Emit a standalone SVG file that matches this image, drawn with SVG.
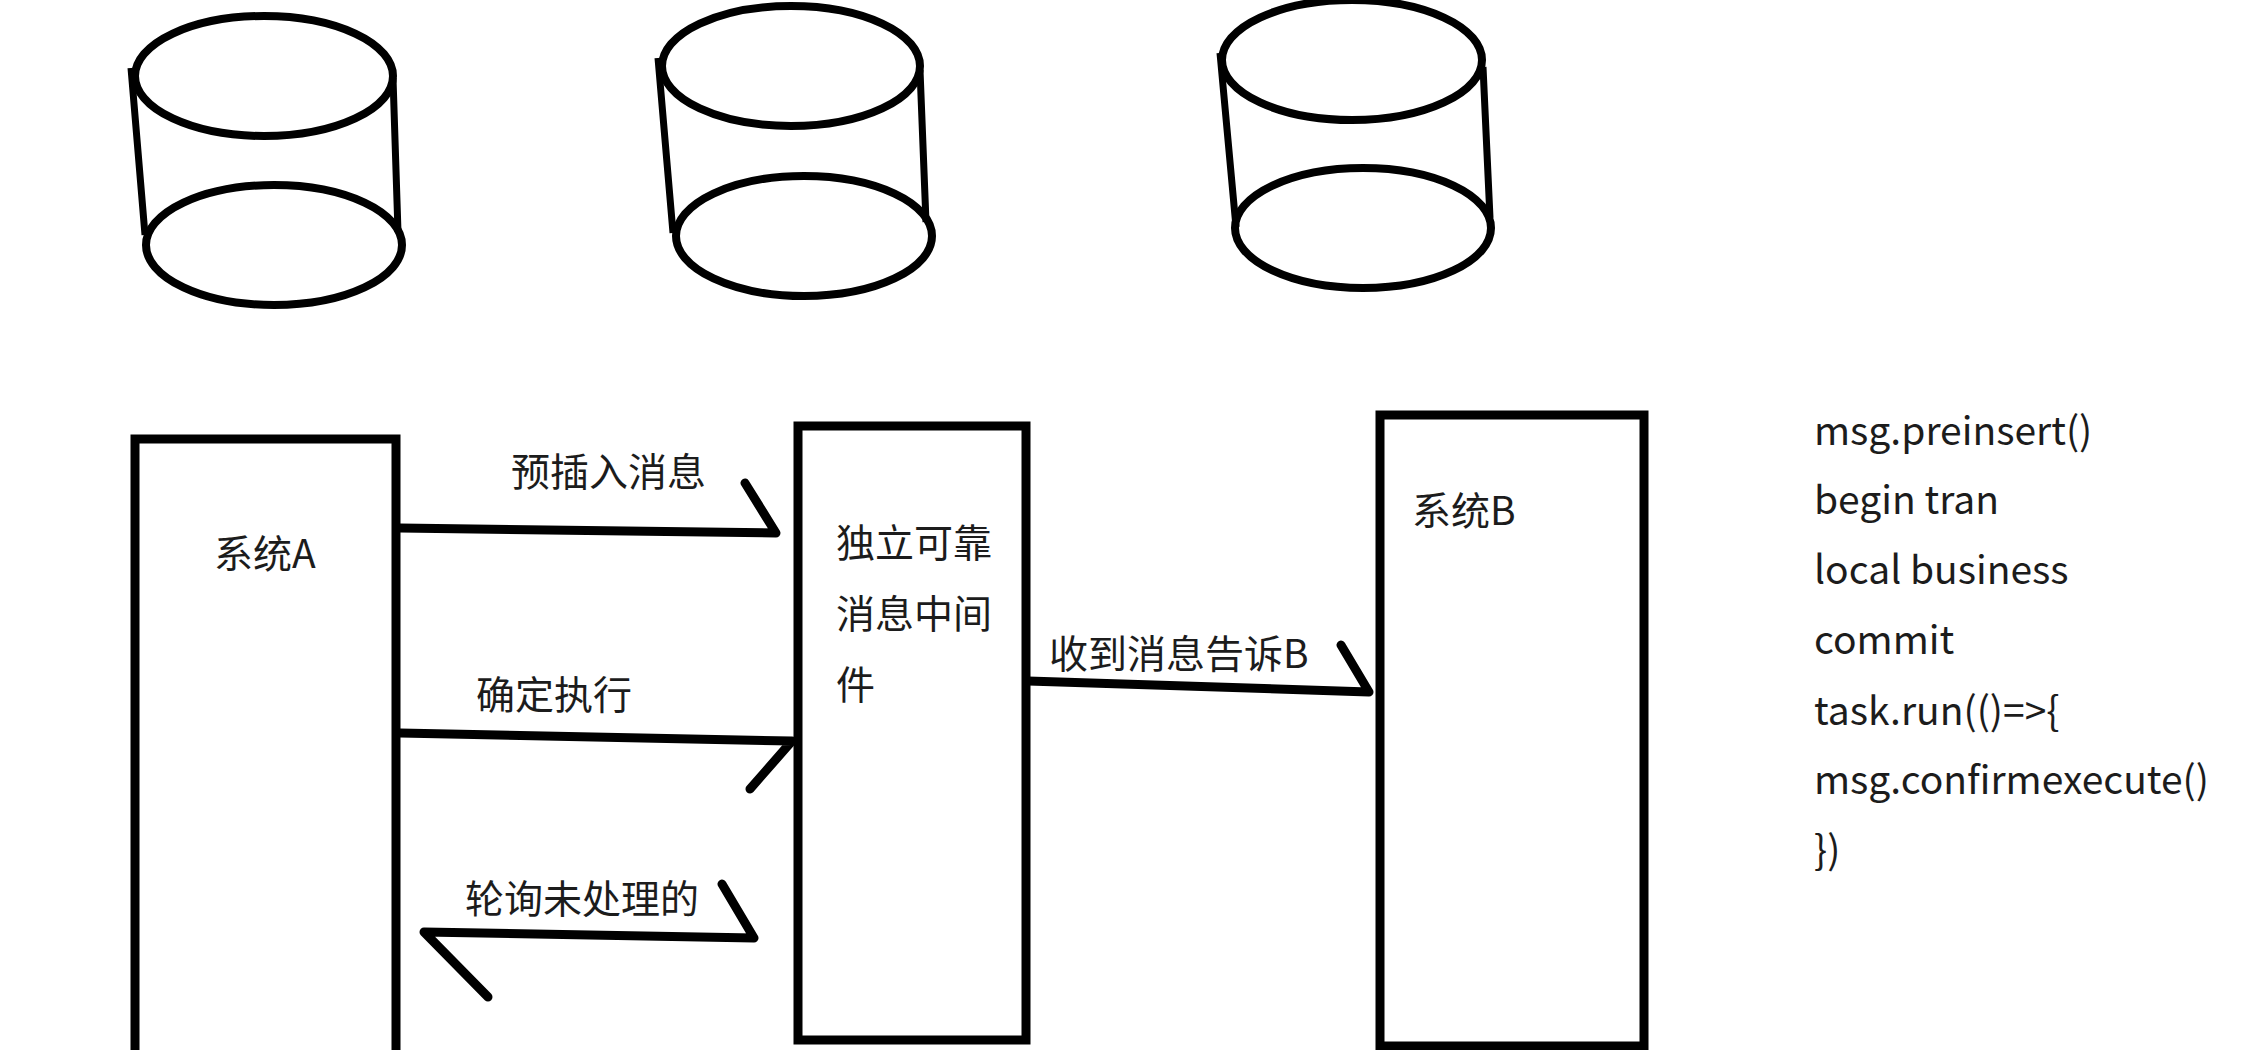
<svg xmlns="http://www.w3.org/2000/svg" width="2256" height="1050" viewBox="0 0 2256 1050">
<style>
.bg{fill:#fff}
.shape{fill:none;stroke:#000;stroke-width:8}
.side{fill:none;stroke:#000;stroke-width:7}
.box{fill:none;stroke:#000;stroke-width:9}
.conn{fill:none;stroke:#000;stroke-width:9;stroke-linecap:round;stroke-linejoin:round}
text{font-family:"Noto Sans CJK SC","Noto Sans",sans-serif;font-size:39px;fill:#1c1c1c}
</style>
<rect class="bg" width="2256" height="1050"/>
<g id="db1">
<ellipse class="shape" cx="264" cy="76" rx="129" ry="60"/>
<ellipse class="shape" cx="274" cy="245" rx="128" ry="60"/>
<path class="side" d="M131 68L145 235M393 78L398 232"/>
</g>
<g id="db2">
<ellipse class="shape" cx="791" cy="66" rx="129" ry="60"/>
<ellipse class="shape" cx="804" cy="236" rx="128" ry="60"/>
<path class="side" d="M658 58L673 233M920 70L926 222"/>
</g>
<g id="db3">
<ellipse class="shape" cx="1352" cy="60" rx="130" ry="60"/>
<ellipse class="shape" cx="1363" cy="228" rx="128" ry="60"/>
<path class="side" d="M1220 53L1236 227M1483 67L1490 218"/>
</g>
<g id="system-a">
<path class="box" d="M135 1050V439H396V1050"/>
<text x="214" y="568">系统A</text>
</g>
<g id="middleware">
<rect class="box" x="798" y="426" width="228" height="614"/>
<text x="836" y="557">独立可靠</text>
<text x="836" y="628">消息中间</text>
<text x="836" y="699">件</text>
</g>
<g id="system-b">
<rect class="box" x="1380" y="415" width="264" height="631"/>
<text x="1412" y="525">系统B</text>
</g>
<g id="connectors">
<path class="conn" d="M400 528L776 533L745 483"/>
<path class="conn" d="M400 733L792 741L750 789"/>
<path class="conn" d="M754 938L424 932L488 997M754 938L722 884"/>
<path class="conn" d="M1028 681L1369 692L1341 645"/>
</g>
<g id="labels">
<text x="511" y="486">预插入消息</text>
<text x="476" y="709">确定执行</text>
<text x="465" y="913">轮询未处理的</text>
<text x="1049" y="668">收到消息告诉B</text>
</g>
<g id="code">
<text x="1814" y="445">msg.preinsert()</text>
<text x="1814" y="514">begin tran</text>
<text x="1814" y="584">local business</text>
<text x="1814" y="654">commit</text>
<text x="1814" y="725">task.run(()=&gt;{</text>
<text x="1814" y="794">msg.confirmexecute()</text>
<text x="1814" y="864">})</text>
</g>
</svg>
